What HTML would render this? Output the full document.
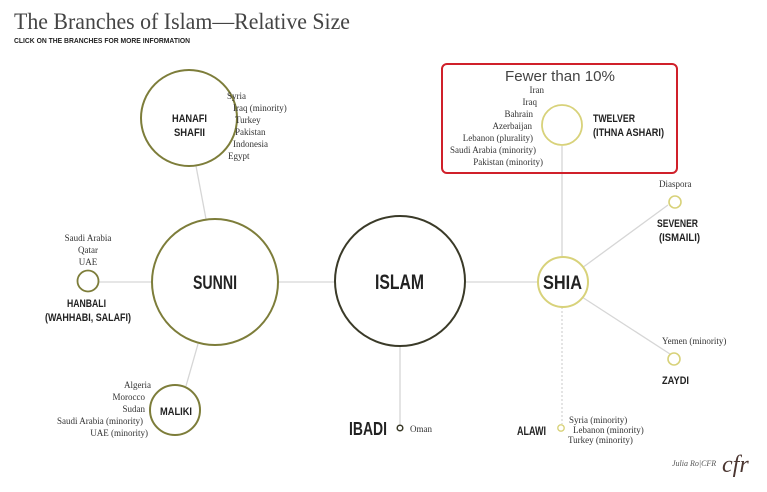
<!DOCTYPE html>
<html><head><meta charset="utf-8"><style>
html,body{margin:0;padding:0;background:#fff;}
svg{display:block;}
.s{font-family:"Liberation Serif",serif;fill:#333;font-size:9px;}
.b{font-family:"Liberation Sans",sans-serif;font-weight:bold;fill:#222;}
</style></head><body>
<svg width="767" height="492" viewBox="0 0 767 492" xmlns="http://www.w3.org/2000/svg">
<text x="14" y="29" font-family="Liberation Serif,serif" font-size="23" fill="#444" textLength="336" lengthAdjust="spacingAndGlyphs">The Branches of Islam—Relative Size</text>
<text x="14" y="43" class="b" font-size="7.5" fill="#333" textLength="176" lengthAdjust="spacingAndGlyphs">CLICK ON THE BRANCHES FOR MORE INFORMATION</text>
<g stroke="#d6d6d6" stroke-width="1.3" fill="none">
<line x1="99" y1="282" x2="152" y2="282"/>
<line x1="278" y1="282" x2="335" y2="282"/>
<line x1="465" y1="282" x2="538" y2="282"/>
<line x1="196" y1="166" x2="206" y2="219"/>
<line x1="198" y1="344" x2="186" y2="386"/>
<line x1="400" y1="347" x2="400" y2="425"/>
<line x1="562" y1="146" x2="562" y2="257"/>
<line x1="582" y1="268" x2="668" y2="205"/>
<line x1="582" y1="297" x2="670" y2="354"/>
<line x1="562" y1="307" x2="562" y2="424" stroke-dasharray="2,2"/>
</g>
<g fill="#fff">
<circle cx="189" cy="118" r="48" stroke="#7d7d3a" stroke-width="2"/>
<circle cx="215" cy="282" r="63" stroke="#7d7d3a" stroke-width="2"/>
<circle cx="88" cy="281" r="10.5" stroke="#7d7d3a" stroke-width="1.8"/>
<circle cx="175" cy="410" r="25" stroke="#7d7d3a" stroke-width="2"/>
<circle cx="400" cy="281" r="65" stroke="#3a3a28" stroke-width="2"/>
<circle cx="400" cy="428" r="2.8" stroke="#3a3a28" stroke-width="1.5"/>
<circle cx="563" cy="282" r="25" stroke="#d8d27a" stroke-width="2"/>
<circle cx="562" cy="125" r="20" stroke="#d8d27a" stroke-width="1.8"/>
<circle cx="675" cy="202" r="6" stroke="#d8d27a" stroke-width="1.6"/>
<circle cx="674" cy="359" r="6" stroke="#d8d27a" stroke-width="1.6"/>
<circle cx="561" cy="428" r="3.2" stroke="#d8d27a" stroke-width="1.4"/>
</g>
<rect x="442" y="64" width="235" height="109" rx="5" fill="none" stroke="#d0202a" stroke-width="2"/>
<text x="505" y="81" font-family="Liberation Sans,sans-serif" font-size="15" fill="#444" textLength="110" lengthAdjust="spacingAndGlyphs">Fewer than 10%</text>
<g class="s" text-anchor="end">
<text x="544" y="93">Iran</text>
<text x="537" y="105">Iraq</text>
<text x="533" y="117">Bahrain</text>
<text x="532" y="129">Azerbaijan</text>
<text x="533" y="141">Lebanon (plurality)</text>
<text x="536" y="153">Saudi Arabia (minority)</text>
<text x="543" y="165">Pakistan (minority)</text>
</g>
<text x="593" y="122" class="b" font-size="11" textLength="42" lengthAdjust="spacingAndGlyphs">TWELVER</text>
<text x="593" y="136" class="b" font-size="11" textLength="71" lengthAdjust="spacingAndGlyphs">(ITHNA ASHARI)</text>
<text x="659" y="187" class="s" font-size="10">Diaspora</text>
<text x="657" y="227" class="b" font-size="11" textLength="41" lengthAdjust="spacingAndGlyphs">SEVENER</text>
<text x="659" y="241" class="b" font-size="11" textLength="41" lengthAdjust="spacingAndGlyphs">(ISMAILI)</text>
<text x="543" y="289" class="b" font-size="19" textLength="39" lengthAdjust="spacingAndGlyphs">SHIA</text>
<text x="662" y="344" class="s" font-size="10">Yemen (minority)</text>
<text x="662" y="384" class="b" font-size="11" textLength="27" lengthAdjust="spacingAndGlyphs">ZAYDI</text>
<text x="517" y="435" class="b" font-size="12" textLength="29" lengthAdjust="spacingAndGlyphs">ALAWI</text>
<g class="s"><text x="569" y="423">Syria (minority)</text><text x="573" y="433">Lebanon (minority)</text><text x="568" y="443">Turkey (minority)</text></g>
<text x="375" y="289" class="b" font-size="21" textLength="49" lengthAdjust="spacingAndGlyphs">ISLAM</text>
<text x="349" y="435" class="b" font-size="18" textLength="38" lengthAdjust="spacingAndGlyphs">IBADI</text>
<text x="410" y="432" class="s" font-size="8.5">Oman</text>
<text x="193" y="289" class="b" font-size="19" textLength="44" lengthAdjust="spacingAndGlyphs">SUNNI</text>
<text x="172" y="122" class="b" font-size="11" textLength="35" lengthAdjust="spacingAndGlyphs">HANAFI</text>
<text x="174" y="136" class="b" font-size="11" textLength="31" lengthAdjust="spacingAndGlyphs">SHAFII</text>
<g class="s"><text x="227" y="99">Syria</text><text x="233" y="111">Iraq (minority)</text><text x="235" y="123">Turkey</text><text x="235" y="135">Pakistan</text><text x="233" y="147">Indonesia</text><text x="228" y="159">Egypt</text></g>
<g class="s" text-anchor="middle"><text x="88" y="241">Saudi Arabia</text><text x="88" y="253">Qatar</text><text x="88" y="265">UAE</text></g>
<text x="67" y="307" class="b" font-size="11" textLength="39" lengthAdjust="spacingAndGlyphs">HANBALI</text>
<text x="45" y="321" class="b" font-size="11" textLength="86" lengthAdjust="spacingAndGlyphs">(WAHHABI, SALAFI)</text>
<text x="160" y="415" class="b" font-size="11" textLength="32" lengthAdjust="spacingAndGlyphs">MALIKI</text>
<g class="s" text-anchor="end"><text x="151" y="388">Algeria</text><text x="145" y="400">Morocco</text><text x="145" y="412">Sudan</text><text x="143" y="424">Saudi Arabia (minority)</text><text x="148" y="436">UAE (minority)</text></g>
<text x="672" y="466" font-family="Liberation Serif,serif" font-style="italic" font-size="8" fill="#555">Julia Ro|CFR</text>
<text x="722" y="472" font-family="Liberation Serif,serif" font-style="italic" font-size="24" fill="#4a3530">cfr</text>
</svg>
</body></html>
